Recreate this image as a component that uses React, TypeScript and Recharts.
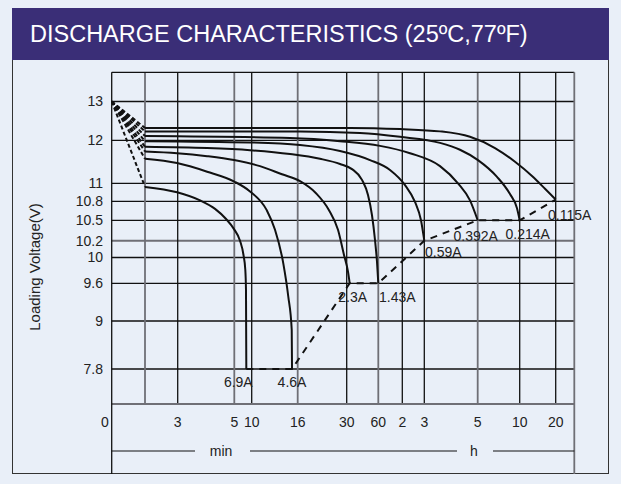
import React from 'react';
import { LineChart, Line, XAxis, YAxis, ReferenceLine, ReferenceDot } from 'recharts';

const X_TICK_MIN = [0, 1, 3, 5, 10, 16, 30, 60, 120, 180, 300, 600, 1200];
const X_TICK_LABELS = ['0', '', '3', '5', '10', '16', '30', '60', '2', '3', '5', '10', '20'];
const Y_TICKS = [13, 12, 11, 10.8, 10.5, 10.2, 10, 9.6, 9, 7.8];

const CURRENTS = ['6.9A', '4.6A', '2.3A', '1.43A', '0.59A', '0.392A', '0.214A', '0.115A'];

// [minutes, volts]
const C_690 = [[1, 10.96], [2.96, 10.9], [3.79, 10.81], [4.32, 10.68], [4.71, 10.52], [4.99, 10.37], [6.64, 10.2], [7.64, 10.03], [8.16, 9.81], [8.36, 9.49], [8.45, 7.8]];
const C_460 = [[1, 11.57], [2.96, 11.47], [4.04, 11.27], [5, 11.04], [9.51, 10.91], [11.96, 10.66], [13.04, 10.36], [14.12, 9.91], [14.77, 9.39], [15.22, 8.78], [15.26, 7.8]];
const C_230 = [[1, 11.74], [2.96, 11.7], [4.04, 11.63], [4.99, 11.54], [11.08, 11.4], [13.95, 11.21], [16.66, 11.05], [21.23, 10.89], [24.94, 10.66], [27.51, 10.36], [29.23, 10.03], [31.23, 9.78], [32.85, 9.6]];
const C_143 = [[1, 11.85], [4.04, 11.82], [9.51, 11.77], [15, 11.68], [22.37, 11.57], [28.09, 11.45], [35.03, 11.33], [44.53, 11.08], [50.22, 10.87], [54.02, 10.58], [56.87, 10.21], [58.77, 9.93], [60, 9.6]];
const C_059 = [[1, 11.98], [9.51, 11.95], [16.66, 11.89], [28.09, 11.75], [52.12, 11.54], [89.25, 11.31], [127.4, 10.98], [154.6, 10.79], [171, 10.5], [180, 10.2]];
const C_0392 = [[1, 12.11], [15, 12.06], [28.09, 11.98], [64.25, 11.87], [141, 11.7], [215.3, 11.4], [255.7, 11.0], [282.7, 10.81], [300, 10.5]];
const C_0214 = [[1, 12.23], [16.66, 12.23], [42.6, 12.19], [114.25, 12.09], [215.3, 11.94], [260.2, 11.78], [302, 11.54], [437.9, 11.15], [530.7, 10.88], [580.7, 10.69], [600, 10.5]];
const C_0115 = [[1, 12.32], [33.1, 12.32], [114.25, 12.29], [215.3, 12.23], [282.7, 12.09], [423.6, 11.82], [566.4, 11.5], [805, 11.17], [1021.7, 10.94], [1200, 10.82]];
const CURVES = [C_690, C_460, C_230, C_143, C_059, C_0392, C_0214, C_0115];

const START_VOLT = 13;
const END_LINE = [[8.45, 7.8], [15.26, 7.8], [32.85, 9.6], [60, 9.6], [180, 10.2], [300, 10.5], [600, 10.5], [1200, 10.82]];

// the printed grid is not linear, so both axes go through piecewise knots
const X_KNOT_MIN = [0, 1, 3, 5, 10, 16, 30, 60, 120, 180, 300, 600, 1200, 1500];
const X_KNOT_POS = [0, 33.3, 66, 122.6, 140, 186, 235, 266.6, 290.6, 312.6, 366, 408, 444, 462.6];
const Y_KNOT_V = [7.8, 9, 9.6, 10, 10.2, 10.5, 10.8, 11, 12, 13];
const Y_KNOT_POS = [35, 83, 120.7, 146.5, 163.3, 183.7, 202.7, 220.7, 263.7, 302.5];
const X_MAX = 462.6;
const Y_MAX = 331.7;

const GRAY_X = [1, 5, 16, 60, 300];
const GRAY_Y = [10.2];
const LABEL_OFFSETS = [[-8, 18], [0, 18], [3, 19], [19, 19], [19, 16], [-2, 21], [8, 19], [14, 20]];

const FONT = '"Liberation Sans", Arial, Helvetica, sans-serif';
const INK = '#111';
const GRAY = '#6f6f76';

function interp(v: number, xs: number[], ys: number[]) {
  let i = 1;
  while (i < xs.length - 1 && v > xs[i]) i++;
  const t = (v - xs[i - 1]) / (xs[i] - xs[i - 1]);
  return ys[i - 1] + t * (ys[i] - ys[i - 1]);
}
const px = (m: number) => interp(m, X_KNOT_MIN, X_KNOT_POS);
const py = (v: number) => interp(v, Y_KNOT_V, Y_KNOT_POS);
const toPts = (arr: number[][]) => arr.map(([m, v]) => ({ x: px(m), y: py(v) }));

function XTick(props: any) {
  const { x, index } = props;
  const label = X_TICK_LABELS[index];
  if (index === 0) {
    return <text x={x - 3} y={427} textAnchor="end" fontSize={14} fontFamily={FONT} fill="#222">{label}</text>;
  }
  return <text x={x} y={427} textAnchor="middle" fontSize={14} fontFamily={FONT} fill="#222">{label}</text>;
}

function YTick(props: any) {
  const { y, index } = props;
  return <text x={103} y={y} dy="0.35em" textAnchor="end" fontSize={14} fontFamily={FONT} fill="#222">{Y_TICKS[index]}</text>;
}

export default function App() {
  return (
    <div style={{ position: 'fixed', left: 0, top: 0, width: 621, height: 484, background: '#e9eff8', fontFamily: FONT }}>
      <div style={{ position: 'absolute', left: 12, top: 8, width: 597, height: 466, border: '1.5px solid #333', boxSizing: 'border-box' }} />
      <div style={{ position: 'absolute', left: 12, top: 8, width: 597, height: 52, background: '#3a2e77', color: '#fff', fontSize: 23.5, lineHeight: '52px', paddingLeft: 18, boxSizing: 'border-box' }}>
        DISCHARGE CHARACTERISTICS (25ºC,77ºF)
      </div>
      <div style={{ position: 'absolute', left: 0, top: 0 }}>
        <LineChart width={621} height={484} margin={{ top: 72.3, right: 46.7, bottom: 50, left: 51.7 }}>
          <XAxis type="number" dataKey="x" domain={[0, X_MAX]} ticks={X_TICK_MIN.map(px)} interval={0}
            axisLine={false} tickLine={false} height={30} tick={<XTick />} allowDataOverflow />
          <YAxis type="number" dataKey="y" domain={[0, Y_MAX]} ticks={Y_TICKS.map(py)} interval={0}
            axisLine={false} tickLine={false} width={60} tick={<YTick />} allowDataOverflow />

          {Y_TICKS.map((v) => (
            <ReferenceLine key={'h' + v} y={py(v)} stroke={GRAY_Y.includes(v) ? GRAY : INK} strokeWidth={GRAY_Y.includes(v) ? 2 : 1.3} />
          ))}
          {X_TICK_MIN.slice(1).map((m) => (
            <ReferenceLine key={'v' + m} x={px(m)} stroke={GRAY_X.includes(m) ? GRAY : INK} strokeWidth={GRAY_X.includes(m) ? 1.8 : 1.3} />
          ))}
          <ReferenceLine y={Y_MAX} stroke={INK} strokeWidth={1.3} />
          <ReferenceLine y={0} stroke={GRAY} strokeWidth={2} />
          <ReferenceLine x={0} stroke={INK} strokeWidth={1.3} />
          <ReferenceLine x={X_MAX} stroke={GRAY} strokeWidth={1.8} />

          {CURVES.map((c, i) => (
            <Line key={'s' + i} data={toPts([[0, START_VOLT], c[0]])} dataKey="y" type="linear" stroke={INK}
              strokeWidth={2} strokeDasharray="4 2.5" dot={false} isAnimationActive={false} />
          ))}
          <Line data={toPts(END_LINE)} dataKey="y" type="linear" stroke={INK} strokeWidth={2}
            strokeDasharray="7 6" dot={false} isAnimationActive={false} />
          {CURVES.map((c, i) => (
            <Line key={'c' + i} data={toPts(c)} dataKey="y" type="monotone" stroke={INK}
              strokeWidth={2} dot={false} isAnimationActive={false} />
          ))}
          {CURVES.map((c, i) => {
            const last = c[c.length - 1];
            const [dx, dy] = LABEL_OFFSETS[i];
            return (
              <ReferenceDot key={'l' + i} x={px(last[0])} y={py(last[1])} r={0}
                shape={(p: any) => (
                  <text x={p.cx + dx} y={p.cy + dy} textAnchor="middle" fontSize={14} fontFamily={FONT} fill="#222">{CURRENTS[i]}</text>
                )} />
            );
          })}
        </LineChart>
      </div>
      <svg width={621} height={484} style={{ position: 'absolute', left: 0, top: 0, pointerEvents: 'none' }}>
        <line x1={111.7} y1={404} x2={111.7} y2={474} stroke={INK} strokeWidth={1.3} />
        <line x1={574.3} y1={404} x2={574.3} y2={474} stroke={GRAY} strokeWidth={1.8} />
        <line x1={111.7} y1={451} x2={195} y2={451} stroke={INK} strokeWidth={1.2} />
        <text x={221} y={456} textAnchor="middle" fontSize={14} fill="#222">min</text>
        <line x1={250} y1={451} x2={457} y2={451} stroke={INK} strokeWidth={1.2} />
        <text x={474} y={456} textAnchor="middle" fontSize={14} fill="#222">h</text>
        <line x1={493} y1={451} x2={574.3} y2={451} stroke={INK} strokeWidth={1.2} />
        <text x={40} y={267} textAnchor="middle" fontSize={15} fill="#222" transform="rotate(-90 40 267)">Loading Voltage(V)</text>
      </svg>
    </div>
  );
}
